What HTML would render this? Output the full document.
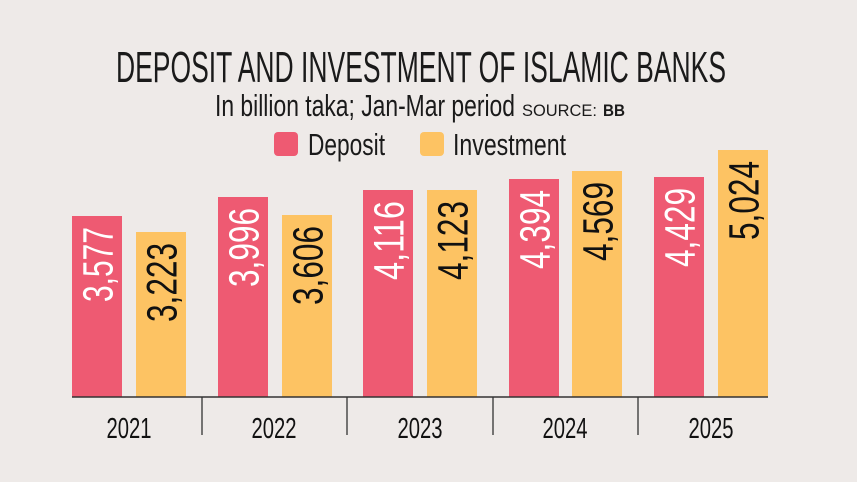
<!DOCTYPE html>
<html><head><meta charset="utf-8"><style>
html,body{margin:0;padding:0;background:#eeeae8;}
svg{display:block;font-family:"Liberation Sans Narrow","Liberation Sans",sans-serif;}
</style></head><body>
<svg width="857" height="482" viewBox="0 0 857 482" xmlns="http://www.w3.org/2000/svg">
<rect width="857" height="482" fill="#eeeae8"/>
<text x="116" y="82" font-size="44" fill="#1a1a1a" textLength="610" lengthAdjust="spacingAndGlyphs">DEPOSIT AND INVESTMENT OF ISLAMIC BANKS</text>
<text x="215" y="116" font-size="31" fill="#1a1a1a" textLength="300" lengthAdjust="spacingAndGlyphs">In billion taka; Jan-Mar period</text>
<text x="522" y="116" font-size="17" fill="#1a1a1a" textLength="75" lengthAdjust="spacingAndGlyphs" font-family="Liberation Sans, sans-serif">SOURCE:</text>
<text x="603" y="116" font-size="17" font-weight="bold" fill="#1a1a1a" textLength="22" lengthAdjust="spacingAndGlyphs" font-family="Liberation Sans, sans-serif">BB</text>
<rect x="274" y="132" width="24" height="24" rx="4" fill="#ee5a72"/>
<text x="308" y="155" font-size="31" fill="#1a1a1a" textLength="77" lengthAdjust="spacingAndGlyphs">Deposit</text>
<rect x="420" y="132" width="24" height="24" rx="4" fill="#fdc363"/>
<text x="453" y="155" font-size="31" fill="#1a1a1a" textLength="113" lengthAdjust="spacingAndGlyphs">Investment</text>

<g font-size="43">
<rect x="72" y="216" width="50" height="181" fill="#ee5a72"/>
<text transform="translate(112.5,227) rotate(-90)" text-anchor="end" fill="#fff" textLength="75" lengthAdjust="spacingAndGlyphs">3,577</text>
<rect x="136" y="232" width="50" height="165" fill="#fdc363"/>
<text transform="translate(176.5,243) rotate(-90)" text-anchor="end" fill="#111" textLength="79" lengthAdjust="spacingAndGlyphs">3,223</text>

<rect x="218" y="197" width="50" height="200" fill="#ee5a72"/>
<text transform="translate(258.5,208) rotate(-90)" text-anchor="end" fill="#fff" textLength="79" lengthAdjust="spacingAndGlyphs">3,996</text>
<rect x="282" y="215" width="50" height="182" fill="#fdc363"/>
<text transform="translate(322.5,226) rotate(-90)" text-anchor="end" fill="#111" textLength="79" lengthAdjust="spacingAndGlyphs">3,606</text>

<rect x="363" y="190" width="50" height="207" fill="#ee5a72"/>
<text transform="translate(403.5,201) rotate(-90)" text-anchor="end" fill="#fff" textLength="79" lengthAdjust="spacingAndGlyphs">4,116</text>
<rect x="427" y="190" width="50" height="207" fill="#fdc363"/>
<text transform="translate(467.5,201) rotate(-90)" text-anchor="end" fill="#111" textLength="79" lengthAdjust="spacingAndGlyphs">4,123</text>

<rect x="509" y="179" width="50" height="218" fill="#ee5a72"/>
<text transform="translate(549.5,190) rotate(-90)" text-anchor="end" fill="#fff" textLength="79" lengthAdjust="spacingAndGlyphs">4,394</text>
<rect x="572" y="171" width="50" height="226" fill="#fdc363"/>
<text transform="translate(612.5,182) rotate(-90)" text-anchor="end" fill="#111" textLength="79" lengthAdjust="spacingAndGlyphs">4,569</text>

<rect x="654" y="177" width="50" height="220" fill="#ee5a72"/>
<text transform="translate(694.5,188) rotate(-90)" text-anchor="end" fill="#fff" textLength="79" lengthAdjust="spacingAndGlyphs">4,429</text>
<rect x="718" y="150" width="50" height="247" fill="#fdc363"/>
<text transform="translate(758.5,161) rotate(-90)" text-anchor="end" fill="#111" textLength="79" lengthAdjust="spacingAndGlyphs">5,024</text>
</g>

<line x1="72" y1="397" x2="768" y2="397" stroke="#333" stroke-width="1.5"/>
<g stroke="#333" stroke-width="1.3">
<line x1="202" y1="397" x2="202" y2="435"/>
<line x1="347" y1="397" x2="347" y2="435"/>
<line x1="493" y1="397" x2="493" y2="435"/>
<line x1="638" y1="397" x2="638" y2="435"/>
</g>
<g font-size="29" fill="#111" text-anchor="middle">
<text x="129" y="438" textLength="45" lengthAdjust="spacingAndGlyphs">2021</text>
<text x="274" y="438" textLength="45" lengthAdjust="spacingAndGlyphs">2022</text>
<text x="420" y="438" textLength="45" lengthAdjust="spacingAndGlyphs">2023</text>
<text x="565" y="438" textLength="45" lengthAdjust="spacingAndGlyphs">2024</text>
<text x="711" y="438" textLength="45" lengthAdjust="spacingAndGlyphs">2025</text>
</g>
</svg>
</body></html>
